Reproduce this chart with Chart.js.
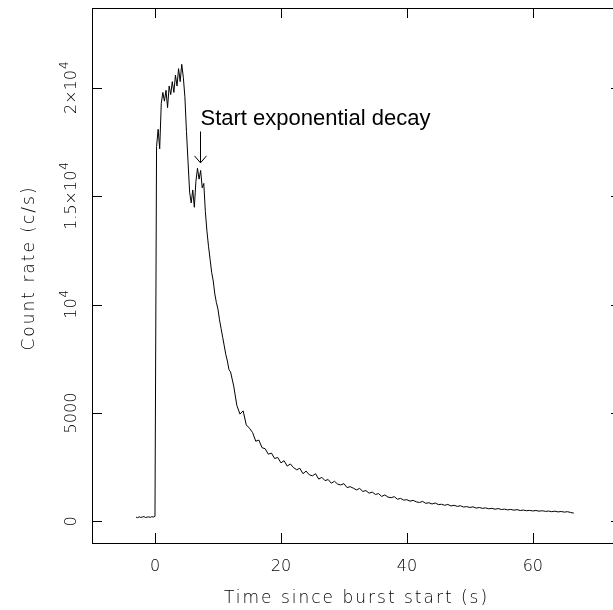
<!DOCTYPE html>
<html>
<head>
<meta charset="utf-8">
<script src="https://cdnjs.cloudflare.com/ajax/libs/Chart.js/4.4.1/chart.umd.min.js"></script>
<style>
  html, body { margin: 0; padding: 0; background: #fff; overflow: hidden; }
</style>
<script>
  // light curve, 0.25 s bins from t = -3 s up to 12 s
  var riseStart = -3.0, riseStep = 0.25;
  var riseCounts = [
    190, 170, 210, 180, 200, 220, 175, 195, 205, 185, 215, 200,
    230, 17300, 18100, 17200, 19300, 19800, 19400, 19900,
    19100, 20100, 19700, 20300, 19800, 20600, 20100, 20900,
    20300, 21100, 20500, 19600, 18000, 16600, 15200, 14700,
    15300, 14500, 15700, 16300, 15800, 16200, 15400, 15600,
    14300, 13400, 12700, 12100, 11500, 11100, 10500, 10100,
    9800, 9300, 8900, 8500, 8100, 7700, 7400, 7000
  ];
  // tail, 0.5 s bins from t = 12 s
  var tailStart = 12.0, tailStep = 0.5;
  var tailCounts = [
    6900, 6250, 5350, 4950, 5100, 4450, 4300, 4100, 3700, 3750,
    3400, 3350, 3100, 3150, 2900, 2950, 2700, 2800, 2550, 2650,
    2480, 2380, 2450, 2200, 2320, 2150, 2100, 2200, 1950, 2030,
    1880, 1930, 1760, 1850, 1720, 1680, 1740, 1560, 1600, 1530,
    1450, 1520, 1380, 1420, 1300, 1350, 1240, 1280, 1150, 1220,
    1120, 1090, 1140, 1020, 1060, 980, 1000, 930, 970, 900,
    870, 920, 830, 860, 800, 850, 770, 790, 740, 780,
    710, 740, 690, 720, 660, 680, 640, 670, 610, 640,
    600, 620, 580, 600, 560, 590, 545, 565, 530, 550,
    515, 540, 500, 520, 490, 505, 480, 500, 470, 490,
    460, 475, 445, 470, 435, 455, 425, 445, 410, 380
  ];

  var xTicks = [0, 20, 40, 60];
  var yTicks = [0, 5000, 10000, 15000, 20000];
  var yTickLabels = ['0', '5000', '10^4', '1.5\u00d710^4', '2\u00d710^4'];
  var xTitle = 'Time since burst start (s)';
  var yTitle = 'Count rate (c/s)';
  var noteText = 'Start exponential decay';
  var noteTime = 7.1, noteTop = 18000, noteTip = 16550;

  function buildPoints() {
    var pts = [];
    for (var i = 0; i < riseCounts.length; i++) {
      pts.push({x: riseStart + i * riseStep, y: riseCounts[i]});
    }
    for (var j = 0; j < tailCounts.length; j++) {
      pts.push({x: tailStart + j * tailStep, y: tailCounts[j]});
    }
    return pts;
  }

  var AXFONT = '"DejaVu Sans", sans-serif';

  // label like "1.5x10^4" with a raised exponent
  function drawSupLabel(ctx, txt, size) {
    var parts = txt.split('^');
    ctx.font = '200 ' + size + 'px ' + AXFONT;
    var w1 = ctx.measureText(parts[0]).width;
    var w2 = 0;
    if (parts.length > 1) {
      ctx.font = '200 ' + Math.round(size * 0.72) + 'px ' + AXFONT;
      w2 = ctx.measureText(parts[1]).width;
    }
    var x0 = -(w1 + w2) / 2;
    ctx.textAlign = 'left';
    ctx.textBaseline = 'middle';
    ctx.font = '200 ' + size + 'px ' + AXFONT;
    ctx.fillText(parts[0], x0, 0);
    if (parts.length > 1) {
      ctx.font = '200 ' + Math.round(size * 0.72) + 'px ' + AXFONT;
      ctx.fillText(parts[1], x0 + w1 + 1, -size * 0.45);
    }
  }

  var framePlugin = {
    id: 'frame',
    afterDraw: function(chart) {
      var ctx = chart.ctx, a = chart.chartArea;
      var xs = chart.scales.x, ys = chart.scales.y;
      var tl = 10;
      ctx.save();
      ctx.strokeStyle = '#000';
      ctx.fillStyle = '#000';
      ctx.lineWidth = 1;
      ctx.strokeRect(Math.round(a.left) + 0.5, Math.round(a.top) + 0.5,
                     Math.round(a.right - a.left), Math.round(a.bottom - a.top));
      ctx.beginPath();
      xTicks.forEach(function(v) {
        var px = Math.round(xs.getPixelForValue(v)) + 0.5;
        ctx.moveTo(px, a.bottom); ctx.lineTo(px, a.bottom - tl);
        ctx.moveTo(px, a.top); ctx.lineTo(px, a.top + tl);
      });
      yTicks.forEach(function(v) {
        var py = Math.round(ys.getPixelForValue(v)) + 0.5;
        ctx.moveTo(a.left, py); ctx.lineTo(a.left + tl, py);
        ctx.moveTo(a.right, py); ctx.lineTo(a.right - tl, py);
      });
      ctx.stroke();

      // x tick labels
      ctx.font = '200 16px ' + AXFONT;
      ctx.textAlign = 'center';
      ctx.textBaseline = 'middle';
      xTicks.forEach(function(v) {
        ctx.fillText(String(v), xs.getPixelForValue(v), a.bottom + 24);
      });
      // y tick labels, rotated
      yTicks.forEach(function(v, i) {
        ctx.save();
        ctx.translate(72, ys.getPixelForValue(v));
        ctx.rotate(-Math.PI / 2);
        drawSupLabel(ctx, yTickLabels[i], 16);
        ctx.restore();
      });
      // axis titles
      ctx.letterSpacing = '2px';
      ctx.font = '200 17px ' + AXFONT;
      ctx.textAlign = 'center';
      ctx.textBaseline = 'middle';
      ctx.fillText(xTitle, (a.left + a.right) / 2, 599);
      ctx.save();
      ctx.translate(30, 268);
      ctx.rotate(-Math.PI / 2);
      ctx.fillText(yTitle, 0, 0);
      ctx.restore();
      ctx.letterSpacing = '0px';

      // annotation arrow and text
      var ax = Math.round(xs.getPixelForValue(noteTime)) + 0.5;
      var ay0 = ys.getPixelForValue(noteTop);
      var ay1 = ys.getPixelForValue(noteTip);
      ctx.beginPath();
      ctx.moveTo(ax, ay0); ctx.lineTo(ax, ay1);
      ctx.moveTo(ax - 6, ay1 - 7); ctx.lineTo(ax, ay1); ctx.lineTo(ax + 6, ay1 - 7);
      ctx.stroke();
      ctx.font = '22px "Liberation Sans", Arial, sans-serif';
      ctx.textAlign = 'left';
      ctx.textBaseline = 'alphabetic';
      ctx.fillText(noteText, ax, ay0 - 6);
      ctx.restore();
    }
  };

  function afterPageLoad() {
    var ctx = document.getElementById('myChart').getContext('2d');
    new Chart(ctx, {
      type: 'line',
      data: {
        datasets: [{
          data: buildPoints(),
          borderColor: '#000',
          borderWidth: 1,
          pointRadius: 0,
          tension: 0,
          fill: false
        }]
      },
      options: {
        responsive: false,
        animation: false,
        layout: { padding: { left: 92, top: 8, right: 19, bottom: 67 } },
        plugins: { legend: { display: false }, tooltip: { enabled: false } },
        scales: {
          x: { type: 'linear', min: -10, max: 74, display: false },
          y: { type: 'linear', min: -1000, max: 23700, display: false }
        }
      },
      plugins: [framePlugin]
    });
  }
</script>
</head>
<body onload="afterPageLoad()">
<canvas id="myChart" width="640" height="610"></canvas>
</body>
</html>
